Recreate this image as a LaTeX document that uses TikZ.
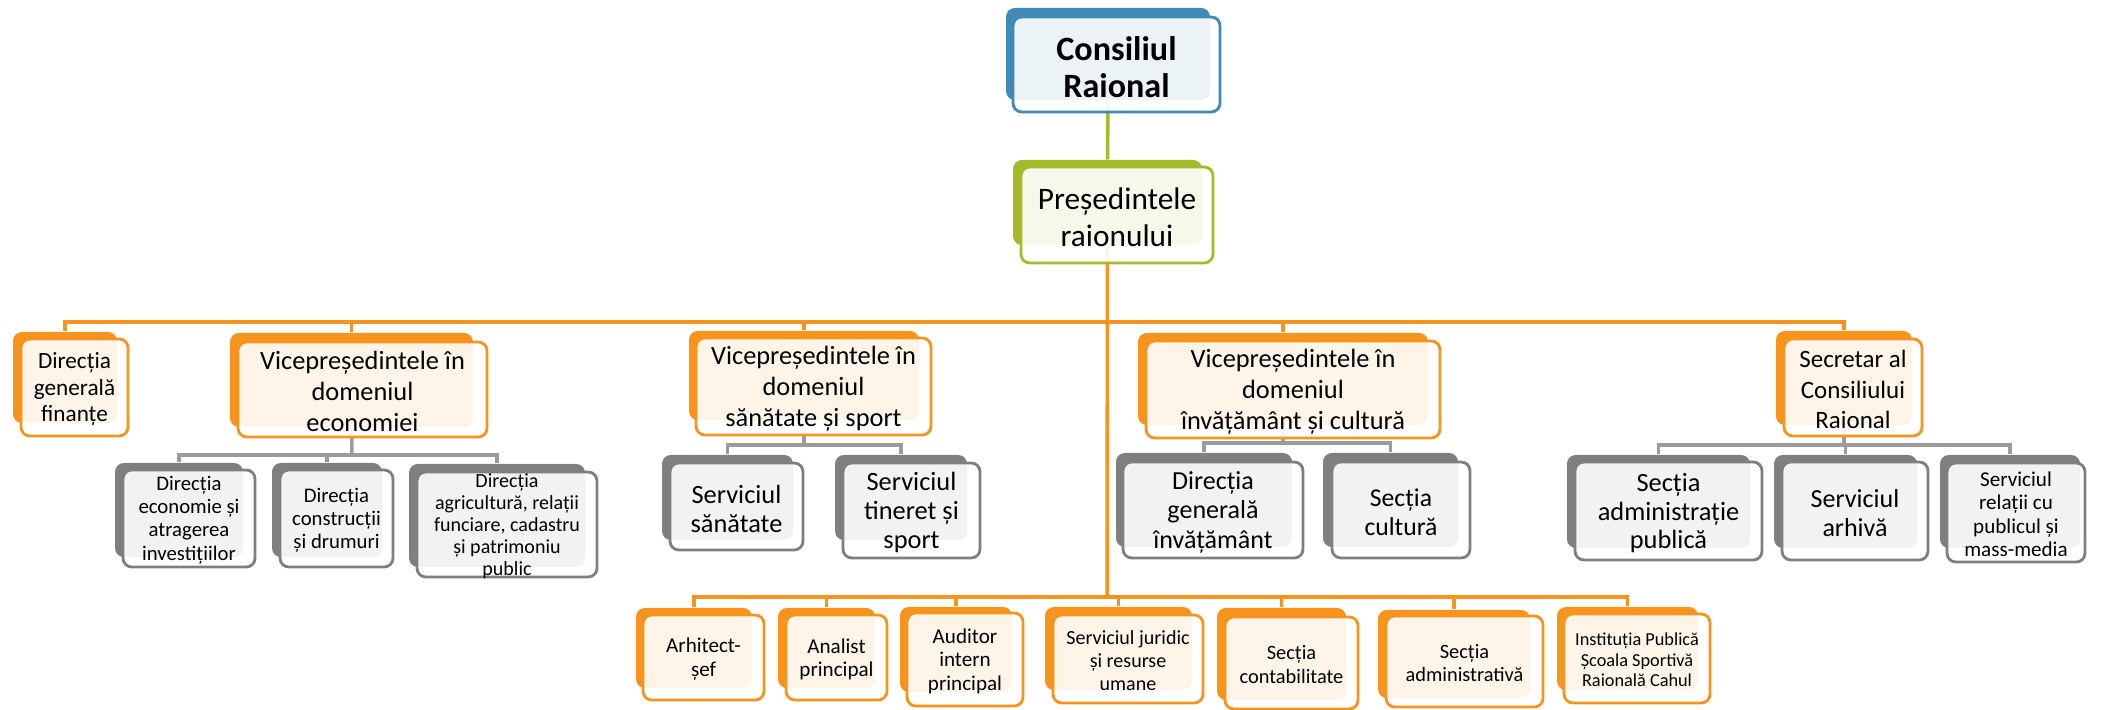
\documentclass[tikz,border=0pt]{standalone}
\usepackage{fontspec}
\setmainfont{Carlito}
\usetikzlibrary{fit,backgrounds}
\definecolor{orng}{RGB}{247,148,29}
\definecolor{blu}{RGB}{65,137,182}
\definecolor{grn}{RGB}{166,185,40}
\definecolor{gry}{RGB}{127,127,127}
\definecolor{lin}{RGB}{155,155,155}
\newcommand\fsz[2]{\fontsize{#1}{#2}\selectfont}

\begin{document}
\begin{tikzpicture}[x=0.01cm, y=-0.01cm,
    plate/.style={rounded corners=2.5pt, fill=#1, inner sep=0pt},
    card/.style={rounded corners=2.5pt, draw=#1, line width=0.8pt, fill=white,
      fill opacity=0.9, inner sep=0pt},
    txt/.style 2 args={font=\fsz{#1}{#2}, align=center, inner sep=0pt,
      text opacity=1, yshift={-0.08*#1pt}},
    link/.style={draw=#1, line width=1pt}]
\useasboundingbox (0,0) rectangle (2103,710);

% top of the chart
\node[plate=blu, fit={(1006,8) (1210,100)}] (cons-b) {};
\node[card=blu, fit={(1013,17) (1220,112)},
  label={[txt={9.7}{10.3}, font=\fsz{9.7}{10.3}\bfseries]center:Consiliul\\Raional}] (cons) {};
\node[plate=grn, fit={(1013,160) (1202,245)}] (pres-b) {};
\node[card=grn, fit={(1021,167) (1213,263)},
  label={[txt={8.9}{10.4}]center:Președintele\\raionului}] (pres) {};

% first row
\node[plate=orng, fit={(13,332) (117,423)}] (fin-b) {};
\node[card=orng, fit={(21,339) (128,436)},
  label={[txt={6.6}{7.6}]center:Direcția\\generală\\finanțe}] (fin) {};
\node[plate=orng, fit={(230,333) (473,427)}] (eco-b) {};
\node[card=orng, fit={(238,342) (487,437)},
  label={[txt={7.5}{8.9}]center:Vicepreședintele în\\domeniul\\economiei}] (eco) {};
\node[plate=orng, fit={(689,331) (919,420)}] (san-b) {};
\node[card=orng, fit={(696,338) (931,435)},
  label={[txt={7.5}{8.9}]center:Vicepreședintele în\\domeniul\\sănătate și sport}] (san) {};
\node[plate=orng, fit={(1138,333) (1428,425)}] (inv-b) {};
\node[card=orng, fit={(1146,341) (1440,438)},
  label={[txt={7.5}{8.9}]center:Vicepreședintele în\\domeniul\\învățământ și cultură}] (inv) {};
\node[plate=orng, fit={(1776,331) (1912,425)}] (sec-b) {};
\node[card=orng, fit={(1784,339) (1922,436)},
  label={[txt={7.1}{8.6}]center:Secretar al\\Consiliului\\Raional}] (sec) {};

% second row
\node[plate=gry, fit={(115,463) (243,557)}] (ecoA-b) {};
\node[card=gry, fit={(123,470) (255,567)},
  label={[txt={5.9}{6.6}]center:Direcția\\economie și\\atragerea\\investițiilor}] (ecoA) {};
\node[plate=gry, fit={(272,463) (382,557)}] (ecoB-b) {};
\node[card=gry, fit={(280,470) (393,567)},
  label={[txt={5.9}{6.6}]center:Direcția\\construcții\\și drumuri}] (ecoB) {};
\node[plate=gry, fit={(409,464) (585,567)}] (ecoC-b) {};
\node[card=gry, fit={(417,472) (597,577)},
  label={[txt={5.7}{6.3}]center:{Direcția\\agricultură, relații\\funciare, cadastru\\și patrimoniu\\public}}] (ecoC) {};
\node[plate=gry, fit={(662,455) (793,540)}] (sanA-b) {};
\node[card=gry, fit={(670,463) (803,550)},
  label={[txt={7.5}{8.2}]center:Serviciul\\sănătate}] (sanA) {};
\node[plate=gry, fit={(835,455) (967,540)}] (sanB-b) {};
\node[card=gry, fit={(843,463) (980,558)},
  label={[txt={7.5}{8.2}]center:Serviciul\\tineret și\\sport}] (sanB) {};
\node[plate=gry, fit={(1116,453) (1292,547)}] (invA-b) {};
\node[card=gry, fit={(1123,462) (1303,558)},
  label={[txt={7.4}{8.4}]center:Direcția\\generală\\învățământ}] (invA) {};
\node[plate=gry, fit={(1323,453) (1458,547)}] (invB-b) {};
\node[card=gry, fit={(1332,462) (1470,558)},
  label={[txt={7.3}{8.4}]center:Secția\\cultură}] (invB) {};
\node[plate=gry, fit={(1567,455) (1750,548)}] (secA-b) {};
\node[card=gry, fit={(1575,462) (1762,560)},
  label={[txt={7.5}{8.2}]center:Secția\\administrație\\publică}] (secA) {};
\node[plate=gry, fit={(1774,455) (1917,548)}] (secB-b) {};
\node[card=gry, fit={(1782,462) (1928,560)},
  label={[txt={7.4}{8.2}]center:Serviciul\\arhivă}] (secB) {};
\node[plate=gry, fit={(1940,455) (2080,548)}] (secC-b) {};
\node[card=gry, fit={(1947,463) (2085,562)},
  label={[txt={6}{6.6}]center:Serviciul\\relații cu\\publicul și\\mass-media}] (secC) {};

% bottom row
\node[plate=orng, fit={(636,608) (752,688)}] (arh-b) {};
\node[card=orng, fit={(643,615) (764,700)},
  label={[txt={6}{6.6}]center:Arhitect-\\șef}] (arh) {};
\node[plate=orng, fit={(778,608) (875,688)}] (ana-b) {};
\node[card=orng, fit={(786,615) (887,700)},
  label={[txt={6}{6.6}]center:Analist\\principal}] (ana) {};
\node[plate=orng, fit={(900,607) (1012,692)}] (aud-b) {};
\node[card=orng, fit={(907,613) (1023,706)},
  label={[txt={6}{6.6}]center:Auditor\\intern\\principal}] (aud) {};
\node[plate=orng, fit={(1045,607) (1192,690)}] (jur-b) {};
\node[card=orng, fit={(1053,615) (1203,703)},
  label={[txt={5.7}{6.5}]center:Serviciul juridic\\și resurse\\umane}] (jur) {};
\node[plate=orng, fit={(1217,608) (1346,700)}] (con-b) {};
\node[card=orng, fit={(1225,617) (1358,709)},
  label={[txt={5.8}{6.6}]center:Secția\\contabilitate}] (con) {};
\node[plate=orng, fit={(1378,610) (1530,698)}] (adm-b) {};
\node[card=orng, fit={(1386,616) (1543,707)},
  label={[txt={5.8}{6.6}]center:Secția\\administrativă}] (adm) {};
\node[plate=orng, fit={(1557,607) (1698,690)}] (ins-b) {};
\node[card=orng, fit={(1564,614) (1710,703)},
  label={[txt={5.2}{5.9}]center:Instituția Publică\\Școala Sportivă\\Raională Cahul}] (ins) {};

% connectors behind the boxes
\begin{scope}[on background layer]
  \coordinate (bus1) at (1107,322);
  \coordinate (bus3) at (1107,597);
  \draw[link=grn] (cons-b) -- (pres-b);
  \draw[link=orng] (pres-b) -- (bus3);
  \foreach \n in {fin,eco,san,inv,sec}
    \draw[link=orng] (bus1) -| (\n-b.north);
  \foreach \n in {arh,ana,aud,jur,con,adm,ins}
    \draw[link=orng] (bus3) -| (\n-b.north);
  \coordinate (eco-bus) at (352,455);
  \coordinate (san-bus) at (804,445);
  \coordinate (inv-bus) at (1283,443);
  \coordinate (sec-bus) at (1844,445);
  \draw[link=lin] (eco-b) -- (eco-bus);
  \draw[link=lin] (san-b) -- (san-bus);
  \draw[link=lin] (inv-b) -- (inv-bus);
  \draw[link=lin] (sec-b) -- (sec-bus);
  \foreach \n in {ecoA,ecoB,ecoC}
    \draw[link=lin] (eco-bus) -| (\n-b.north);
  \foreach \n in {sanA,sanB}
    \draw[link=lin] (san-bus) -| (\n-b.north);
  \foreach \n in {invA,invB}
    \draw[link=lin] (inv-bus) -| (\n-b.north);
  \foreach \n in {secA,secB,secC}
    \draw[link=lin] (sec-bus) -| (\n-b.north);
\end{scope}
\end{tikzpicture}
\end{document}
